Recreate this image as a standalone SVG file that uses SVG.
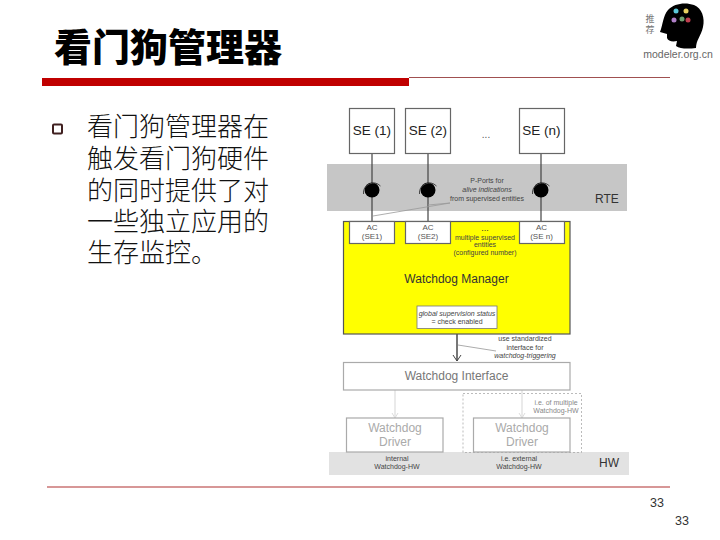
<svg xmlns="http://www.w3.org/2000/svg" width="720" height="540" viewBox="0 0 720 540">
<style>
text{font-family:"Liberation Sans",Arial,sans-serif;fill:#222}
.cjk{font-family:"Noto Sans CJK SC",sans-serif}
.body{font-size:26px;font-weight:300;fill:#111;letter-spacing:0}
.box{fill:#fff;stroke:#666;stroke-width:1.2}
.lbox{fill:#fff;stroke:#aaa;stroke-width:1.2}
.m{text-anchor:middle}
.se{font-size:13.500px}
.tiny{font-size:7px;text-anchor:middle;fill:#444}
.tinyi{font-size:7px;text-anchor:middle;fill:#444;font-style:italic}
.ac{font-size:8px;text-anchor:middle;fill:#555}
.wd{font-size:12px;text-anchor:middle;fill:#aaa}
.ln{stroke:#444;stroke-width:1.2;fill:none}
.arc{stroke:#444;stroke-width:1;fill:none}
</style>
<rect width="720" height="540" fill="#fff"/>
<g id="title">
<text class="cjk" x="54" y="61" font-size="38" font-weight="900" style="fill:#000">看门狗管理器</text>
<rect x="42" y="78" width="367" height="8" fill="#c00000"/>
<rect x="409" y="77" width="261" height="1" fill="#a05050"/>
</g>
<g id="logo">
<path d="M660 32C663 24 663 16 668 10C674 3 686 2 694 5C702 8 705 18 703 27C701 36 696 40 696 48C688 49 680 49 676 46L677 41C672 42 668 41 667 38L667 34Z" fill="#000"/>
<circle cx="676" cy="11" r="2.500" fill="#5bc8d8"/>
<circle cx="686" cy="11" r="2.500" fill="#e8d060"/>
<circle cx="674" cy="20" r="2.500" fill="#b080c8"/>
<circle cx="682" cy="19" r="2.500" fill="#70a070"/>
<circle cx="688" cy="20" r="2.500" fill="#c04050"/>
<text class="cjk" x="650" y="22" font-size="9" text-anchor="middle" style="fill:#777">推</text>
<text class="cjk" x="650" y="33" font-size="9" text-anchor="middle" style="fill:#777">荐</text>
<text x="678" y="58" font-size="10.500" text-anchor="middle" style="fill:#666">modeler.org.cn</text>
</g>
<g id="bullet">
<rect x="53" y="124.500" width="9" height="9" rx="1" fill="#fff" stroke="#402020" stroke-width="2"/>
<text class="cjk body" x="87" y="136">看门狗管理器在</text>
<text class="cjk body" x="87" y="168">触发看门狗硬件</text>
<text class="cjk body" x="87" y="200">的同时提供了对</text>
<text class="cjk body" x="87" y="231">一些独立应用的</text>
<text class="cjk body" x="87" y="262">生存监控。</text>
</g>
<g id="rte">
<rect x="327" y="164" width="300" height="47" fill="#c6c6c6"/>
<text x="607" y="203" font-size="12" class="m" style="fill:#333">RTE</text>
</g>
<g id="hw">
<rect x="329" y="452" width="300" height="23" fill="#e2e2e2"/>
<text x="609" y="467" font-size="12" class="m" style="fill:#333">HW</text>
<text class="tiny" x="397" y="461">internal</text>
<text class="tiny" x="397" y="469">Watchdog-HW</text>
<text class="tiny" x="519" y="461">i.e. external</text>
<text class="tiny" x="519" y="469">Watchdog-HW</text>
</g>
<g id="manager">
<rect x="343.500" y="221.500" width="226.500" height="112.500" fill="#ffff00" stroke="#555" stroke-width="1.200"/>
<text x="456.500" y="283" font-size="12" class="m" style="fill:#333">Watchdog Manager</text>
<text class="tiny" x="485" y="231" style="font-size:9px;fill:#333">...</text>
<text class="tiny" x="485" y="240">multiple supervised</text>
<text class="tiny" x="485" y="247">entities</text>
<text class="tiny" x="485" y="255">(configured number)</text>
</g>
<g id="connectors">
<path class="ln" d="M372 154V221M428 154V221M541 154V221"/>
<path d="M373 216L450 203M428 205L450 203" stroke="#999" stroke-width="0.800" fill="none"/>
<path d="M457 334V361" stroke="#555" stroke-width="1.600" fill="none"/>
<path d="M453 355L457 361L461 355" stroke="#444" stroke-width="1" fill="none"/>
<path d="M458 345L496 351" stroke="#888" stroke-width="0.700" fill="none"/>
<path d="M395 390V418M522 390V418" stroke="#ddd" stroke-width="1.200" fill="none"/>
<path d="M392 413L395 418L398 413M519 413L522 418L525 413" stroke="#ddd" stroke-width="1" fill="none"/>
</g>
<g id="port1">
<circle cx="372" cy="190" r="7.500" fill="#000"/>
<path class="arc" d="M363.500 194A10 10 0 0 1 380.500 186"/>
</g>
<g id="port2">
<circle cx="428" cy="190" r="7.500" fill="#000"/>
<path class="arc" d="M419.500 194A10 10 0 0 1 436.500 186"/>
</g>
<g id="portn">
<circle cx="541" cy="190" r="7.500" fill="#000"/>
<path class="arc" d="M532.500 194A10 10 0 0 1 549.500 186"/>
</g>
<text class="tiny" x="487" y="183">P-Ports for</text>
<text class="tinyi" x="487" y="192">alive indications</text>
<text class="tiny" x="487" y="201">from supervised entities</text>
<text x="486" y="138" font-size="10" class="m" style="fill:#555">...</text>
<g id="se1"><rect class="box" x="349.500" y="108.500" width="45" height="45"/><text class="se m" x="372" y="135">SE (1)</text></g>
<g id="se2"><rect class="box" x="405.500" y="108.500" width="45" height="45"/><text class="se m" x="428" y="135">SE (2)</text></g>
<g id="sen"><rect class="box" x="519.500" y="108.500" width="45" height="45"/><text class="se m" x="541.500" y="135">SE (n)</text></g>
<g id="ac1"><rect class="box" x="349.500" y="221.500" width="45" height="22"/><text class="ac" x="372" y="230">AC</text><text class="ac" x="372" y="239">(SE1)</text></g>
<g id="ac2"><rect class="box" x="405.500" y="221.500" width="45" height="22"/><text class="ac" x="428" y="230">AC</text><text class="ac" x="428" y="239">(SE2)</text></g>
<g id="acn"><rect class="box" x="519.500" y="221.500" width="45" height="22"/><text class="ac" x="541.500" y="230">AC</text><text class="ac" x="541.500" y="239">(SE n)</text></g>
<g id="status"><rect x="417" y="306" width="80" height="22.500" fill="#fff" stroke="#777" stroke-width="0.800"/><text class="tinyi" x="457" y="315.500">global supervision status</text><text class="tiny" x="457" y="323.500">= check enabled</text></g>
<text class="tiny" x="525" y="341">use standardized</text>
<text class="tiny" x="525" y="350">interface for</text>
<text class="tinyi" x="525" y="358">watchdog-triggering</text>
<g id="interface"><rect class="lbox" x="343.500" y="362.500" width="226.500" height="27.500"/><text x="456.500" y="380" font-size="12" class="m" style="fill:#777">Watchdog Interface</text></g>
<g id="multi"><rect x="463" y="393.500" width="118.500" height="59" fill="none" stroke="#aaa" stroke-width="0.800" stroke-dasharray="2 2"/><text class="tiny" x="556" y="405" style="fill:#888">i.e. of multiple</text><text class="tiny" x="556" y="413" style="fill:#888">Watchdog-HW</text></g>
<g id="driver1"><rect class="lbox" x="346.500" y="418" width="96.500" height="34"/><text class="wd" x="395" y="432">Watchdog</text><text class="wd" x="395" y="446">Driver</text></g>
<g id="driver2"><rect class="lbox" x="473.500" y="418" width="96.500" height="34"/><text class="wd" x="522" y="432">Watchdog</text><text class="wd" x="522" y="446">Driver</text></g>
<g id="footer">
<rect x="47" y="486.500" width="623" height="1" fill="#b03030"/>
<text x="657" y="507" font-size="12.500" class="m" style="fill:#333">33</text>
<text x="682" y="525" font-size="12.500" class="m" style="fill:#333">33</text>
</g>
</svg>
